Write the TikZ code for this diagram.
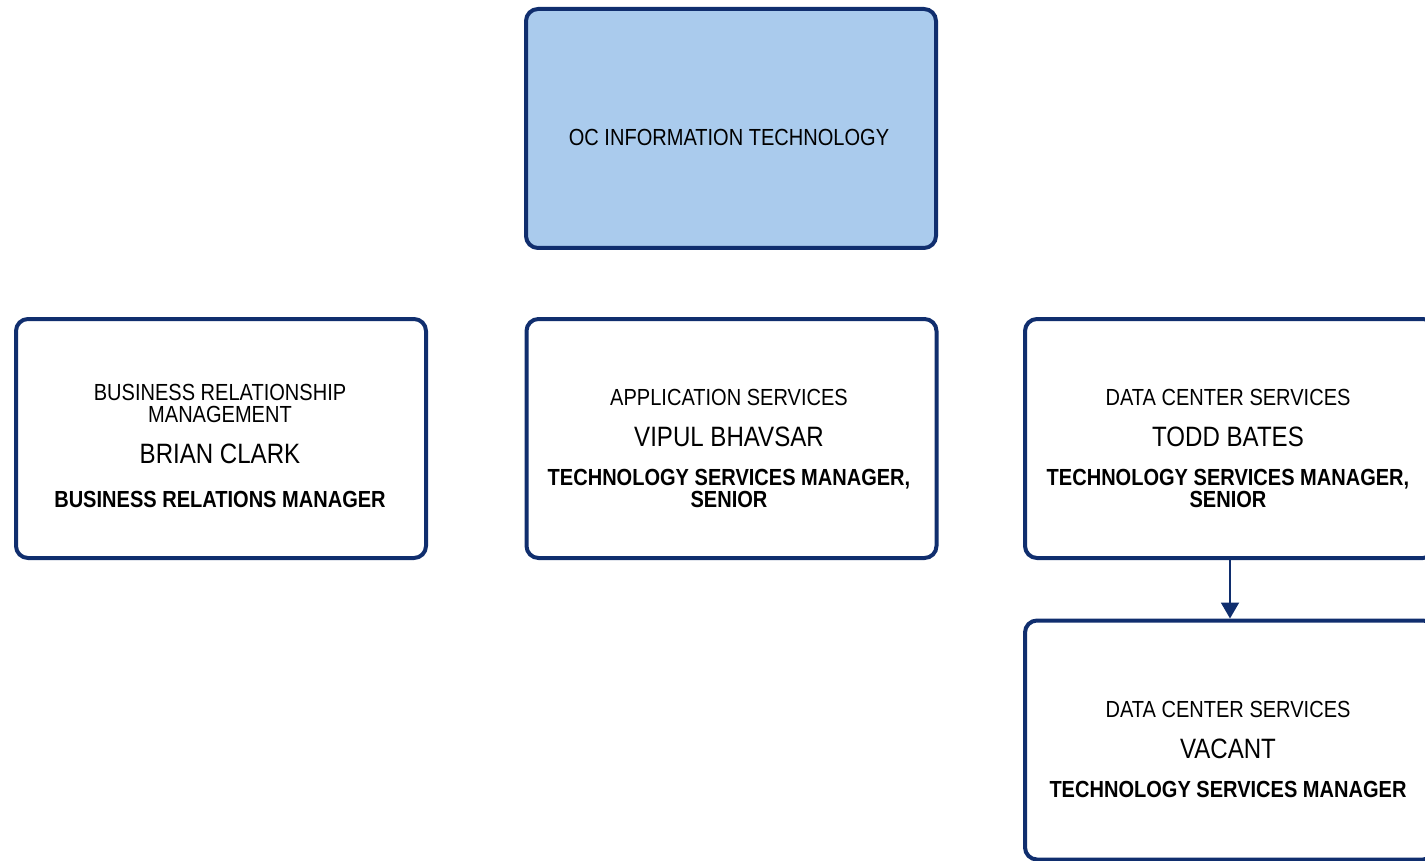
\documentclass[tikz,border=0pt]{standalone}
\usepackage{fontspec}
\setmainfont{Liberation Sans}[FakeStretch=0.86]
\usetikzlibrary{arrows.meta}
\definecolor{marino}{RGB}{16,46,110}
\definecolor{celeste}{RGB}{170,203,237}

\begin{document}
\begin{tikzpicture}[x=1pt,y=-1pt,
  caja/.style={draw=marino, line width=4pt, rounded corners=12pt, fill=white,
    minimum width=410pt, minimum height=239pt, inner sep=0pt},
  area/.style={font=\fontsize{23.3}{22}\selectfont, align=center, anchor=base},
  nombre/.style={font=\fontsize{28}{28}\selectfont, anchor=base},
  cargo/.style={font=\bfseries\fontsize{23.3}{22}\selectfont, align=center, anchor=base},
  flecha/.style={draw=marino, line width=2pt, -{Triangle[width=18pt,length=16pt]}}]
\clip (0,0) rectangle (1425,861);
% Direccion
\node[caja, fill=celeste] (oc) at (731,128.5) {};
\node[area] (oc-a) at (729,146) {OC INFORMATION TECHNOLOGY};
% Relaciones
\node[caja] (brian) at (221,438.5) {};
\node[area] (brian-a) at (220,422) {BUSINESS RELATIONSHIP\\MANAGEMENT};
\node[nombre] (brian-n) at (220,463) {BRIAN CLARK};
\node[cargo] (brian-c) at (220,507) {BUSINESS RELATIONS MANAGER};
% Aplicaciones
\node[caja] (vipul) at (731.5,438.5) {};
\node[area] (vipul-a) at (729,405) {APPLICATION SERVICES};
\node[nombre] (vipul-n) at (729,446) {VIPUL BHAVSAR};
\node[cargo] (vipul-c) at (729,507) {TECHNOLOGY SERVICES MANAGER,\\SENIOR};
% Centro de datos
\node[caja] (todd) at (1230,438.5) {};
\node[area] (todd-a) at (1228,405) {DATA CENTER SERVICES};
\node[nombre] (todd-n) at (1228,446) {TODD BATES};
\node[cargo] (todd-c) at (1228,507) {TECHNOLOGY SERVICES MANAGER,\\SENIOR};
% Vacante
\node[caja] (vacante) at (1230,740) {};
\node[area] (vacante-a) at (1228,717) {DATA CENTER SERVICES};
\node[nombre] (vacante-n) at (1228,758) {VACANT};
\node[cargo] (vacante-c) at (1228,797) {TECHNOLOGY SERVICES MANAGER};
\draw[flecha] (todd) -- (vacante);
\end{tikzpicture}
\end{document}
